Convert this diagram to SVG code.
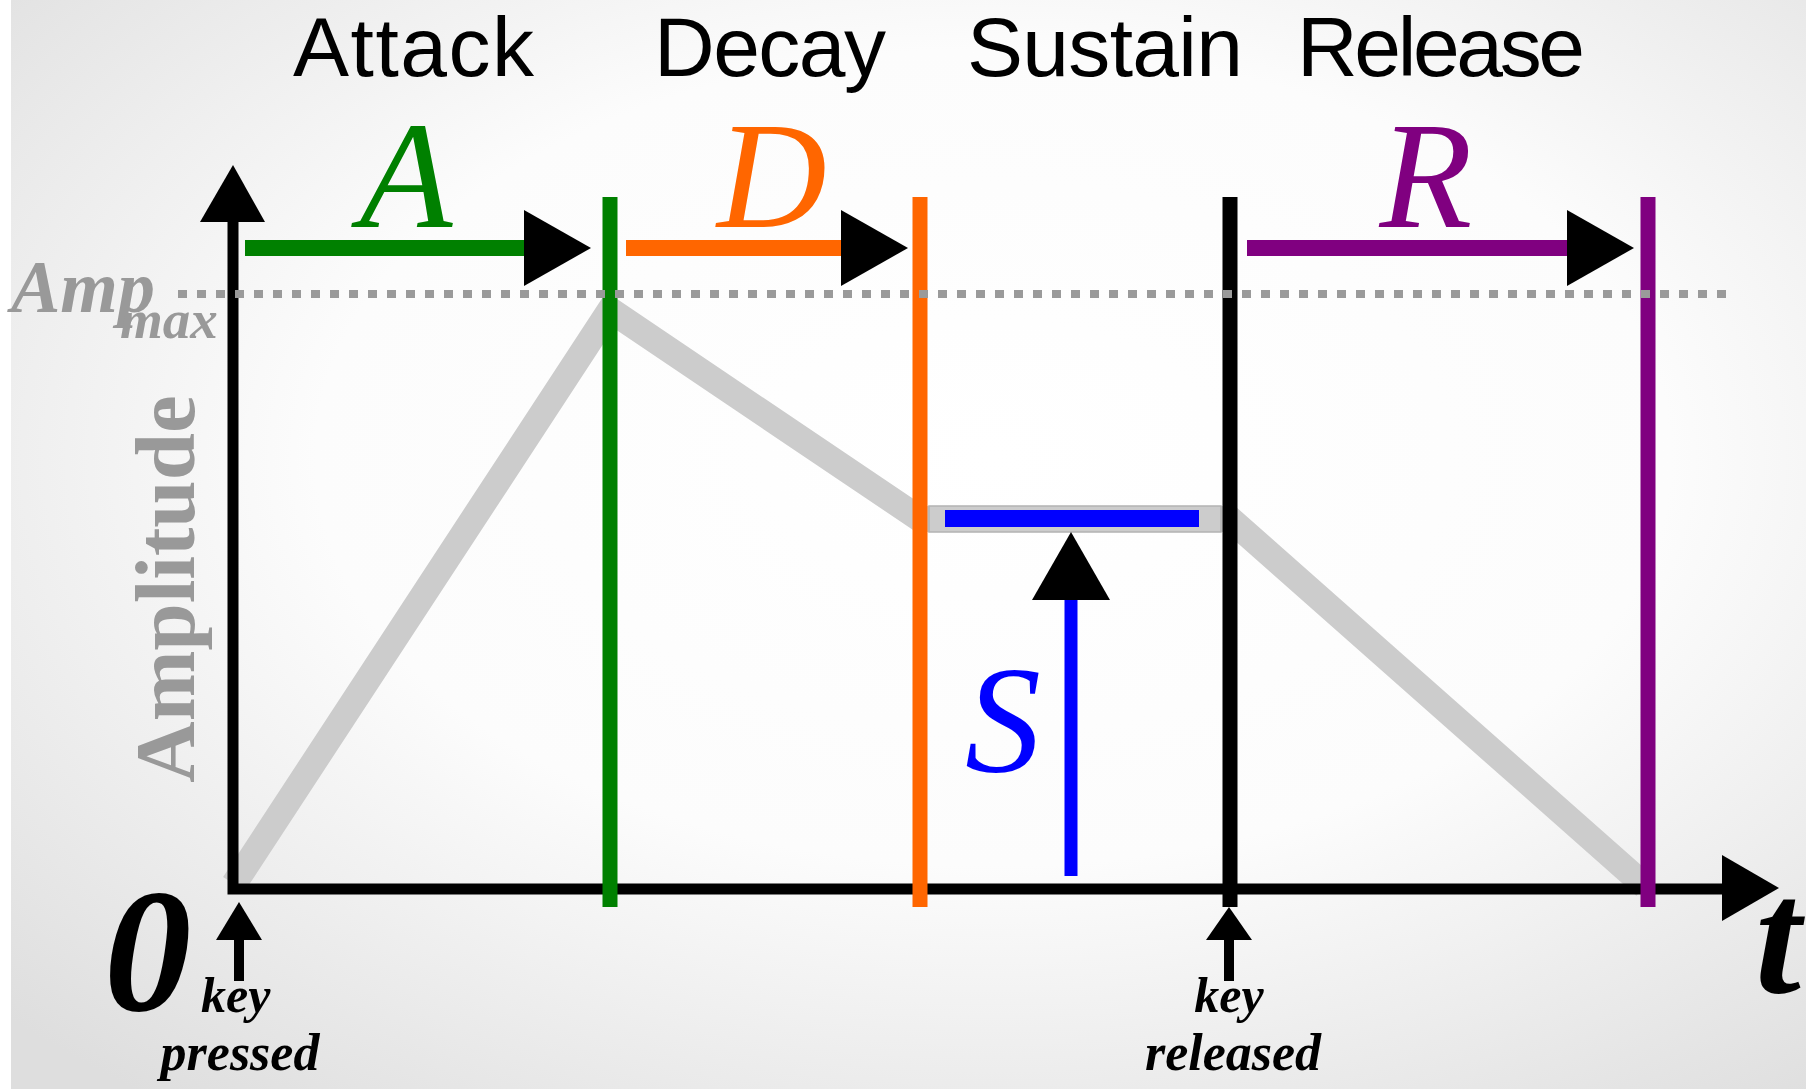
<svg xmlns="http://www.w3.org/2000/svg" width="1806" height="1089" viewBox="0 0 1806 1089">
<defs>
<radialGradient id="bg" cx="0.55" cy="0.42" r="0.75">
<stop offset="0" stop-color="#ffffff"/>
<stop offset="0.5" stop-color="#fcfcfc"/>
<stop offset="1" stop-color="#dedede"/>
</radialGradient>
<style>
.lbl{font-family:"Liberation Sans",Arial,sans-serif;font-size:84px;fill:#000}
.big{font-family:"Liberation Serif",serif;font-style:italic;font-size:152px;text-anchor:middle}
.bi{font-family:"Liberation Serif",serif;font-style:italic;font-weight:bold}
.vl{stroke-width:15;fill:none}
.ah{fill:#000}
</style>
</defs>
<rect x="0" y="0" width="1806" height="1089" fill="url(#bg)"/>
<rect x="0" y="0" width="11" height="1089" fill="#ffffff"/>

<g id="labels">
<text class="lbl" x="293" y="76" textLength="241">Attack</text>
<text class="lbl" x="654" y="76" textLength="232">Decay</text>
<text class="lbl" x="967" y="76" textLength="276">Sustain</text>
<text class="lbl" x="1297" y="76" textLength="288">Release</text>
</g>

<g id="envelope">
<path d="M234,884 L610,310 L920,519 L1230,519 L1645,886" fill="none" stroke="#cccccc" stroke-width="26" stroke-linejoin="miter"/>
<rect x="929" y="506" width="292" height="26" fill="#cccccc" stroke="#b3b3b3" stroke-width="1.5"/>
</g>

<g id="axes">
<path d="M233,215 V889 H1726" fill="none" stroke="#000" stroke-width="11" stroke-linejoin="miter"/>
<polygon class="ah" points="233,165 265,222 200,222"/>
<polygon class="ah" points="1779,888 1722,855 1722,921"/>
</g>

<g id="sustain">
<rect x="945" y="510" width="254" height="17" fill="#0000ff"/>
<line x1="1071" y1="596" x2="1071" y2="876" stroke="#0000ff" stroke-width="13"/>
<polygon class="ah" points="1071,532 1110,600 1032,600"/>
<text class="big" x="1003" y="772" fill="#0000ff">S</text>
</g>

<g id="markers">
<line class="vl" x1="610" y1="197" x2="610" y2="907" stroke="#008000"/>
<line class="vl" x1="920" y1="197" x2="920" y2="907" stroke="#ff6600"/>
<line class="vl" x1="1230" y1="197" x2="1230" y2="907" stroke="#000000"/>
<line class="vl" x1="1648" y1="197" x2="1648" y2="907" stroke="#800080"/>
</g>

<g id="ampmax">
<line x1="178" y1="294" x2="1729" y2="294" stroke="#9a9a9a" stroke-width="8" stroke-dasharray="9 10"/>
<text class="bi" x="11" y="312" font-size="74" fill="#999999">Amp</text>
<text class="bi" x="120" y="338" font-size="55" fill="#999999">max</text>
</g>

<g id="amplitude">
<text transform="translate(194,589) rotate(-90)" text-anchor="middle" font-family="Liberation Serif,serif" font-weight="bold" font-size="85" fill="#999999">Amplitude</text>
</g>

<g id="phase-A">
<line x1="245" y1="248" x2="528" y2="248" stroke="#008000" stroke-width="16"/>
<polygon class="ah" points="524,210 591,248 524,286"/>
<text class="big" x="406" y="227" fill="#008000">A</text>
</g>
<g id="phase-D">
<line x1="626" y1="248" x2="844" y2="248" stroke="#ff6600" stroke-width="16"/>
<polygon class="ah" points="841,210 908,248 841,286"/>
<text class="big" x="772" y="227" fill="#ff6600">D</text>
</g>
<g id="phase-R">
<line x1="1247" y1="248" x2="1570" y2="248" stroke="#800080" stroke-width="16"/>
<polygon class="ah" points="1567,210 1634,248 1567,286"/>
<text class="big" x="1426" y="227" fill="#800080">R</text>
</g>

<g id="origin">
<text class="bi" x="104" y="1010" font-size="175" fill="#000">0</text>
<polygon class="ah" points="239,902 262,940 216,940"/>
<line x1="239" y1="938" x2="239" y2="981" stroke="#000" stroke-width="10"/>
<text class="bi" x="201" y="1012" font-size="50" fill="#000">key</text>
<text class="bi" x="240" y="1070" font-size="52" fill="#000" text-anchor="middle">pressed</text>
</g>

<g id="release-key">
<polygon class="ah" points="1229,907 1252,940 1206,940"/>
<line x1="1229" y1="938" x2="1229" y2="981" stroke="#000" stroke-width="10"/>
<text class="bi" x="1229" y="1012" font-size="50" fill="#000" text-anchor="middle">key</text>
<text class="bi" x="1233" y="1070" font-size="52" fill="#000" text-anchor="middle">released</text>
</g>

<g id="t-label">
<text class="bi" x="1755" y="993" font-size="165" fill="#000">t</text>
</g>
</svg>
